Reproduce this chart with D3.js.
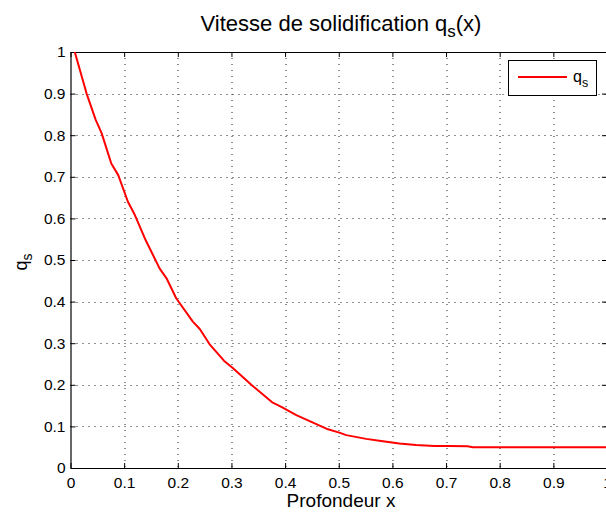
<!DOCTYPE html>
<html>
<head>
<meta charset="utf-8">
<script src="https://cdn.jsdelivr.net/npm/d3@7"></script>
<style>
  body { margin: 0; background: #fff; }
  svg { display: block; font-family: "Liberation Sans", Arial, sans-serif; }
</style>
</head>
<body>
<svg id="chart"></svg>
<script>
// Data
const depth = [0.008, 0.03, 0.047, 0.058, 0.076, 0.089, 0.107, 0.12, 0.14, 0.166, 0.179, 0.197,
  0.228, 0.241, 0.259, 0.286, 0.303, 0.337, 0.377, 0.393, 0.421, 0.452, 0.48, 0.501, 0.514,
  0.551, 0.579, 0.613, 0.644, 0.678, 0.706, 0.74, 0.75, 1.0];
const qs = [1.0, 0.90, 0.837, 0.805, 0.732, 0.704, 0.640, 0.608, 0.548, 0.48, 0.456, 0.408,
  0.352, 0.334, 0.298, 0.258, 0.240, 0.200, 0.157, 0.147, 0.127, 0.109, 0.093, 0.085, 0.079,
  0.070, 0.065, 0.059, 0.055, 0.053, 0.053, 0.0525, 0.05, 0.05];
const xTicks = [0, 0.1, 0.2, 0.3, 0.4, 0.5, 0.6, 0.7, 0.8, 0.9, 1];
const yTicks = [0, 0.1, 0.2, 0.3, 0.4, 0.5, 0.6, 0.7, 0.8, 0.9, 1];

const width = 606;
const height = 512;
const margin = { left: 70.5, top: 52, right: -1, bottom: 44 };
const visWidth = width - margin.left - margin.right;
const visHeight = height - margin.top - margin.bottom;

const svg = d3.select('#chart')
  .attr('width', width)
  .attr('height', height);

const chart = svg.append('g')
  .attr('transform', 'translate(' + margin.left + ',' + margin.top + ')');

const x = d3.scaleLinear().domain([0, 1]).range([0, visWidth]);
const y = d3.scaleLinear().domain([0, 1]).range([visHeight, 0]);

// grid (dotted)
chart.append('g')
  .selectAll('line')
  .data(xTicks.slice(1, -1))
  .enter().append('line')
  .attr('x1', d => Math.round(x(d)) + 0.5).attr('x2', d => Math.round(x(d)) + 0.5)
  .attr('y1', 0).attr('y2', visHeight)
  .attr('stroke', '#222').attr('stroke-width', 1)
  .attr('stroke-dasharray', '1,5');

chart.append('g')
  .selectAll('line')
  .data(yTicks.slice(1, -1))
  .enter().append('line')
  .attr('y1', d => Math.round(y(d)) + 0.5).attr('y2', d => Math.round(y(d)) + 0.5)
  .attr('x1', 0).attr('x2', visWidth)
  .attr('stroke', '#222').attr('stroke-width', 1)
  .attr('stroke-dasharray', '1,5');

// axes (MATLAB style: ticks inward, box on)
const xAxis = chart.append('g')
  .attr('transform', 'translate(0,' + visHeight + ')')
  .call(d3.axisBottom(x).tickValues(xTicks).tickSizeInner(-5).tickSizeOuter(0).tickPadding(9)
    .tickFormat(d => d3.format('')(d)));
const xTop = chart.append('g')
  .call(d3.axisTop(x).tickValues(xTicks).tickSizeInner(-5).tickSizeOuter(0).tickFormat(''));
const yAxis = chart.append('g')
  .call(d3.axisLeft(y).tickValues(yTicks).tickSizeInner(-5).tickSizeOuter(0).tickPadding(5)
    .tickFormat(d => d3.format('')(d)));
const yRight = chart.append('g')
  .attr('transform', 'translate(' + visWidth + ',0)')
  .call(d3.axisRight(y).tickValues(yTicks).tickSizeInner(-5).tickSizeOuter(0).tickFormat(''));

[xAxis, xTop, yAxis, yRight].forEach(a => {
  a.select('.domain').attr('stroke', '#000').attr('stroke-width', 1.2);
  a.selectAll('.tick line').attr('stroke', '#000');
  a.selectAll('text').attr('font-size', '15.5px').attr('fill', '#000')
    .attr('font-family', '"Liberation Sans", Arial, sans-serif');
});

// curve
const line = d3.line()
  .x((d, i) => x(depth[i]))
  .y(d => y(d));

chart.append('path')
  .datum(qs)
  .attr('d', line)
  .attr('fill', 'none')
  .attr('stroke', '#ff0000')
  .attr('stroke-width', 2)
  .attr('stroke-linejoin', 'round');

// title
const title = svg.append('text')
  .attr('x', 341)
  .attr('y', 31)
  .attr('text-anchor', 'middle')
  .attr('font-size', '22px')
  .attr('fill', '#000');
title.append('tspan').text('Vitesse de solidification q');
title.append('tspan').attr('dy', 6).attr('font-size', '17px').text('s');
title.append('tspan').attr('dy', -6).text('(x)');

// axis labels
svg.append('text')
  .attr('x', 341)
  .attr('y', 507)
  .attr('text-anchor', 'middle')
  .attr('font-size', '19px')
  .attr('fill', '#000')
  .text('Profondeur x');

const yl = svg.append('text')
  .attr('transform', 'translate(27,262) rotate(-90)')
  .attr('text-anchor', 'middle')
  .attr('font-size', '18px')
  .attr('fill', '#000');
yl.append('tspan').text('q');
yl.append('tspan').attr('dy', 5).attr('font-size', '14px').text('s');

// legend
const legend = svg.append('g').attr('transform', 'translate(508,60)');
legend.append('rect')
  .attr('x', 0.5).attr('y', 0.5)
  .attr('width', 88).attr('height', 35)
  .attr('fill', '#fff')
  .attr('stroke', '#000')
  .attr('stroke-width', 1);
legend.append('line')
  .attr('x1', 10).attr('x2', 59)
  .attr('y1', 17).attr('y2', 17)
  .attr('stroke', '#ff0000').attr('stroke-width', 2);
const lt = legend.append('text')
  .attr('x', 65).attr('y', 22)
  .attr('font-size', '16px')
  .attr('fill', '#000');
lt.append('tspan').text('q');
lt.append('tspan').attr('dy', 5).attr('font-size', '12.5px').text('s');
</script>
</body>
</html>
